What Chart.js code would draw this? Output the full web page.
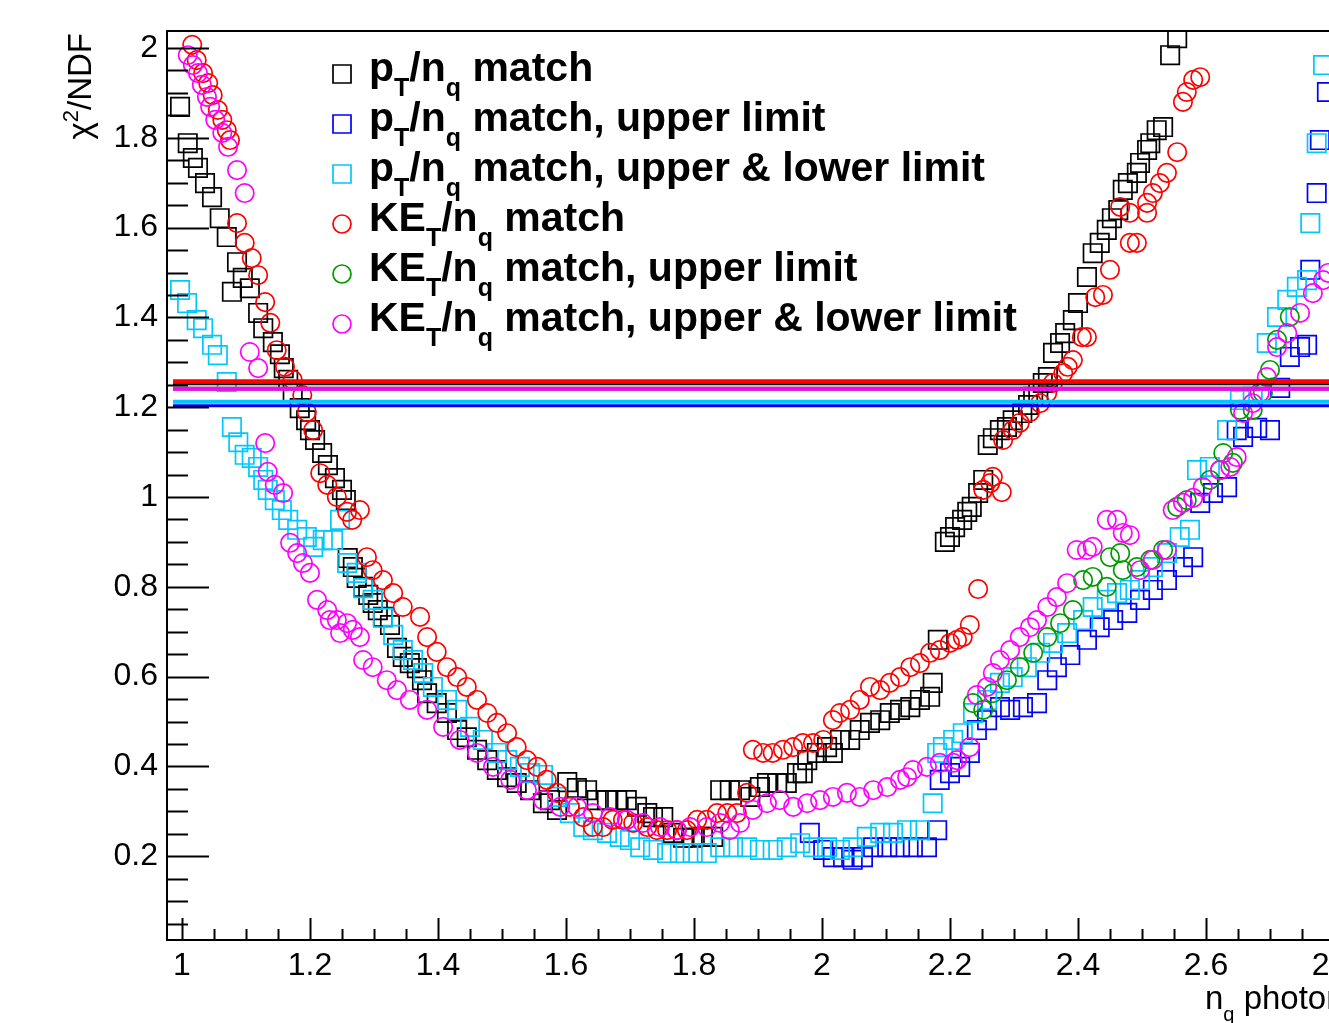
<!DOCTYPE html>
<html>
<head>
<meta charset="utf-8">
<script src="https://cdn.jsdelivr.net/npm/chart.js@4.4.1/dist/chart.umd.min.js"></script>
<style>
  html, body { margin: 0; padding: 0; background: #fff; overflow: hidden; }
  #wrap { width: 1480px; height: 1023px; }
</style>
</head>
<body>
<div id="wrap"><canvas id="chart" width="1480" height="1023"></canvas></div>
<script>
// chi2/NDF vs n_q — scatter of six match variants plus limit lines

// [n_q, chi2/NDF]
const ptMatch = [
  [0.997,1.869],[1.009,1.788],[1.017,1.755],[1.025,1.733],[1.036,1.699],[1.047,1.668],[1.059,1.621],
  [1.070,1.579],[1.078,1.457],[1.086,1.523],[1.095,1.488],[1.106,1.465],[1.119,1.410],[1.127,1.376],
  [1.142,1.345],[1.153,1.318],[1.159,1.287],[1.166,1.261],[1.173,1.234],[1.184,1.198],[1.194,1.171],
  [1.200,1.149],[1.208,1.127],[1.219,1.098],[1.228,1.071],[1.239,1.042],[1.250,1.016],[1.256,0.993],
  [1.259,0.864],[1.267,0.844],[1.273,0.820],[1.283,0.800],[1.291,0.782],[1.298,0.764],[1.306,0.748],
  [1.314,0.733],[1.325,0.715],[1.336,0.664],[1.345,0.644],[1.356,0.630],[1.367,0.619],[1.375,0.592],
  [1.383,0.563],[1.398,0.541],[1.414,0.519],[1.430,0.481],[1.445,0.465],[1.461,0.437],[1.477,0.414],
  [1.492,0.392],[1.508,0.376],[1.523,0.363],[1.544,0.347],[1.564,0.318],[1.575,0.325],[1.586,0.303],
  [1.602,0.365],[1.617,0.352],[1.633,0.347],[1.648,0.325],[1.664,0.325],[1.680,0.325],[1.695,0.325],
  [1.711,0.310],[1.727,0.296],[1.736,0.287],[1.752,0.287],[1.767,0.252],[1.783,0.241],[1.798,0.241],
  [1.814,0.243],[1.830,0.243],[1.841,0.347],[1.856,0.347],[1.872,0.347],[1.888,0.332],[1.903,0.354],
  [1.914,0.363],[1.930,0.363],[1.945,0.363],[1.961,0.385],[1.970,0.385],[1.977,0.414],[1.992,0.430],
  [2.008,0.443],[2.017,0.430],[2.028,0.459],[2.044,0.459],[2.059,0.481],[2.075,0.497],[2.091,0.503],
  [2.106,0.519],[2.122,0.526],[2.138,0.532],[2.153,0.548],[2.169,0.555],[2.173,0.586],[2.181,0.682],
  [2.192,0.900],[2.200,0.911],[2.208,0.933],[2.219,0.949],[2.227,0.967],[2.234,0.978],[2.244,1.009],
  [2.252,1.038],[2.259,1.116],[2.267,1.131],[2.278,1.149],[2.289,1.156],[2.298,1.171],[2.313,1.187],
  [2.322,1.205],[2.330,1.223],[2.338,1.234],[2.345,1.254],[2.353,1.267],[2.361,1.321],[2.372,1.343],
  [2.380,1.365],[2.392,1.394],[2.400,1.432],[2.414,1.490],[2.423,1.543],[2.434,1.566],[2.445,1.595],
  [2.453,1.621],[2.463,1.639],[2.470,1.684],[2.478,1.699],[2.492,1.722],[2.497,1.744],[2.508,1.773],
  [2.513,1.788],[2.523,1.817],[2.533,1.824],[2.544,1.984],[2.555,2.022]
];

const ptUpper = [
  [1.981,0.252],[2.002,0.214],[2.017,0.198],[2.033,0.198],[2.048,0.192],[2.064,0.198],[2.080,0.220],
  [2.102,0.220],[2.122,0.220],[2.142,0.220],[2.164,0.220],[2.180,0.258],[2.184,0.370],[2.200,0.385],
  [2.216,0.399],[2.231,0.430],[2.242,0.481],[2.258,0.503],[2.278,0.532],[2.294,0.526],[2.314,0.532],
  [2.336,0.541],[2.352,0.592],[2.367,0.621],[2.388,0.648],[2.414,0.682],[2.434,0.710],[2.455,0.726],
  [2.477,0.742],[2.497,0.771],[2.517,0.793],[2.539,0.815],[2.564,0.844],[2.580,0.866],[2.591,0.987],
  [2.611,1.009],[2.633,1.022],[2.648,1.149],[2.658,1.134],[2.680,1.154],[2.700,1.149],[2.716,1.243],
  [2.731,1.312],[2.747,1.334],[2.758,1.339],[2.763,1.506],[2.773,1.677],[2.778,1.795],[2.789,1.902]
];

const ptUpperLower = [
  [0.997,1.461],[1.008,1.432],[1.023,1.394],[1.033,1.376],[1.047,1.339],[1.056,1.316],[1.070,1.256],
  [1.078,1.156],[1.088,1.122],[1.098,1.094],[1.109,1.087],[1.119,1.067],[1.127,1.038],[1.134,1.016],
  [1.145,0.993],[1.156,0.971],[1.166,0.949],[1.180,0.927],[1.195,0.911],[1.205,0.889],[1.220,0.904],
  [1.236,0.904],[1.247,0.949],[1.258,0.853],[1.273,0.831],[1.283,0.797],[1.298,0.771],[1.314,0.731],
  [1.330,0.693],[1.345,0.659],[1.361,0.637],[1.377,0.608],[1.392,0.577],[1.414,0.548],[1.430,0.526],
  [1.450,0.488],[1.470,0.459],[1.492,0.430],[1.508,0.414],[1.528,0.399],[1.544,0.385],[1.564,0.381],
  [1.586,0.332],[1.606,0.296],[1.627,0.265],[1.642,0.258],[1.664,0.252],[1.684,0.243],[1.700,0.236],
  [1.716,0.220],[1.736,0.214],[1.758,0.207],[1.778,0.207],[1.798,0.207],[1.820,0.207],[1.841,0.220],
  [1.861,0.220],[1.883,0.220],[1.903,0.214],[1.923,0.214],[1.945,0.220],[1.966,0.229],[1.986,0.220],
  [2.008,0.220],[2.028,0.214],[2.048,0.220],[2.070,0.243],[2.091,0.252],[2.111,0.252],[2.133,0.258],
  [2.153,0.258],[2.173,0.318],[2.180,0.430],[2.189,0.443],[2.205,0.459],[2.220,0.474],[2.236,0.519],
  [2.258,0.548],[2.278,0.586],[2.298,0.599],[2.320,0.621],[2.341,0.653],[2.361,0.675],[2.383,0.697],
  [2.408,0.726],[2.423,0.755],[2.445,0.771],[2.461,0.786],[2.481,0.793],[2.497,0.815],[2.517,0.844],
  [2.539,0.875],[2.559,0.911],[2.575,0.927],[2.586,1.060],[2.606,1.067],[2.633,1.149],[2.653,1.216],
  [2.673,1.223],[2.695,1.343],[2.711,1.401],[2.727,1.439],[2.742,1.468],[2.758,1.483],[2.763,1.610],
  [2.773,1.788],[2.783,1.962]
];

const ketMatch = [
  [1.016,2.007],[1.023,1.973],[1.033,1.944],[1.041,1.922],[1.048,1.895],[1.056,1.862],[1.063,1.840],
  [1.070,1.817],[1.075,1.795],[1.086,1.610],[1.098,1.566],[1.109,1.532],[1.119,1.494],[1.130,1.434],
  [1.138,1.388],[1.148,1.327],[1.161,1.290],[1.173,1.261],[1.188,1.227],[1.195,1.189],[1.205,1.149],
  [1.216,1.053],[1.227,1.027],[1.242,1.000],[1.258,0.967],[1.266,0.949],[1.278,0.971],[1.289,0.866],
  [1.298,0.837],[1.314,0.815],[1.330,0.786],[1.345,0.755],[1.372,0.733],[1.383,0.688],[1.398,0.655],
  [1.414,0.621],[1.430,0.599],[1.445,0.577],[1.461,0.548],[1.477,0.519],[1.492,0.497],[1.508,0.474],
  [1.523,0.443],[1.539,0.414],[1.555,0.399],[1.570,0.370],[1.586,0.341],[1.606,0.310],[1.627,0.287],
  [1.642,0.265],[1.658,0.265],[1.673,0.281],[1.689,0.281],[1.705,0.274],[1.727,0.265],[1.742,0.258],
  [1.758,0.258],[1.773,0.258],[1.789,0.258],[1.805,0.281],[1.820,0.281],[1.836,0.296],[1.852,0.296],
  [1.867,0.296],[1.883,0.341],[1.892,0.437],[1.908,0.430],[1.923,0.430],[1.939,0.437],[1.955,0.443],
  [1.970,0.452],[1.986,0.452],[2.002,0.459],[2.017,0.503],[2.028,0.519],[2.044,0.526],[2.059,0.548],
  [2.075,0.577],[2.091,0.570],[2.106,0.586],[2.122,0.599],[2.138,0.621],[2.153,0.630],[2.169,0.653],
  [2.184,0.659],[2.200,0.675],[2.211,0.682],[2.220,0.688],[2.231,0.715],[2.244,0.795],[2.252,1.016],
  [2.263,1.031],[2.267,1.045],[2.281,1.011],[2.283,1.127],[2.298,1.149],[2.309,1.165],[2.325,1.189],
  [2.341,1.209],[2.352,1.232],[2.361,1.254],[2.377,1.276],[2.384,1.290],[2.392,1.305],[2.406,1.356],
  [2.414,1.356],[2.427,1.445],[2.439,1.450],[2.450,1.506],[2.466,1.646],[2.481,1.566],[2.481,1.633],
  [2.492,1.566],[2.508,1.633],[2.508,1.655],[2.517,1.677],[2.528,1.699],[2.539,1.722],[2.555,1.768],
  [2.564,1.880],[2.570,1.902],[2.580,1.929],[2.591,1.935]
];

const ketUpper = [
  [2.236,0.541],[2.252,0.526],[2.267,0.563],[2.289,0.592],[2.309,0.621],[2.330,0.653],[2.352,0.688],
  [2.372,0.719],[2.392,0.748],[2.408,0.815],[2.423,0.822],[2.445,0.800],[2.450,0.866],[2.466,0.875],
  [2.470,0.837],[2.492,0.844],[2.513,0.860],[2.533,0.882],[2.555,0.978],[2.570,0.993],[2.606,1.038],
  [2.622,1.060],[2.627,1.098],[2.642,1.076],[2.653,1.194],[2.673,1.194],[2.689,1.232],[2.700,1.283],
  [2.711,1.350],[2.731,1.401]
];

const ketUpperLower = [
  [1.009,1.984],[1.017,1.962],[1.025,1.944],[1.031,1.918],[1.039,1.891],[1.044,1.869],[1.052,1.840],
  [1.063,1.811],[1.072,1.780],[1.086,1.728],[1.098,1.677],[1.106,1.323],[1.119,1.287],[1.130,1.120],
  [1.134,1.056],[1.145,1.027],[1.158,1.009],[1.169,0.898],[1.180,0.875],[1.189,0.853],[1.200,0.831],
  [1.211,0.771],[1.227,0.748],[1.231,0.726],[1.242,0.726],[1.247,0.697],[1.258,0.719],[1.267,0.704],
  [1.278,0.688],[1.283,0.637],[1.298,0.621],[1.320,0.592],[1.336,0.570],[1.356,0.548],[1.383,0.526],
  [1.408,0.488],[1.434,0.459],[1.461,0.430],[1.486,0.399],[1.513,0.370],[1.539,0.347],[1.564,0.325],
  [1.591,0.310],[1.617,0.310],[1.642,0.296],[1.669,0.287],[1.695,0.281],[1.720,0.274],[1.747,0.265],
  [1.773,0.258],[1.794,0.265],[1.820,0.265],[1.841,0.274],[1.856,0.258],[1.872,0.274],[1.892,0.303],
  [1.914,0.318],[1.934,0.325],[1.955,0.310],[1.977,0.318],[1.997,0.325],[2.017,0.332],[2.039,0.341],
  [2.059,0.332],[2.080,0.347],[2.102,0.354],[2.122,0.370],[2.133,0.376],[2.142,0.392],[2.164,0.399],
  [2.184,0.408],[2.205,0.408],[2.211,0.414],[2.231,0.443],[2.242,0.559],[2.258,0.577],[2.267,0.608],
  [2.278,0.637],[2.294,0.659],[2.309,0.688],[2.325,0.710],[2.336,0.726],[2.352,0.755],[2.367,0.777],
  [2.383,0.808],[2.398,0.882],[2.414,0.882],[2.423,0.889],[2.445,0.949],[2.461,0.949],[2.470,0.920],
  [2.481,0.915],[2.497,0.837],[2.517,0.860],[2.539,0.882],[2.548,0.971],[2.564,0.987],[2.580,0.998],
  [2.595,1.022],[2.622,1.060],[2.638,1.067],[2.648,1.089],[2.658,1.187],[2.673,1.209],[2.684,1.232],
  [2.695,1.267],[2.711,1.334],[2.727,1.365],[2.747,1.410],[2.767,1.454],[2.783,1.483],[2.791,1.499]
];

// horizontal chi2/NDF limit lines (red, black, green, magenta, cyan, blue)
const LIMIT_VALUES = [1.258, 1.251, 1.241, 1.241, 1.212, 1.203];
const LIMIT_SPAN = [0.986, 2.95];

const X_TICKS = [1, 1.2, 1.4, 1.6, 1.8, 2, 2.2, 2.4, 2.6, 2.8];
const Y_TICKS = [0.2, 0.4, 0.6, 0.8, 1, 1.2, 1.4, 1.6, 1.8, 2];

const X_MIN = 0.9766, X_MAX = 2.9766;
const Y_MIN = 0.0134, Y_MAX = 2.0379;

const FONT = "'Liberation Sans', Arial, Helvetica, sans-serif";

const SERIES = [
  { data: ptMatch,       color: '#000000', style: 'rect'   },
  { data: ptUpper,       color: '#0000ff', style: 'rect'   },
  { data: ptUpperLower,  color: '#00c8ff', style: 'rect'   },
  { data: ketMatch,      color: '#ff0000', style: 'circle' },
  { data: ketUpper,      color: '#009a00', style: 'circle' },
  { data: ketUpperLower, color: '#ff00ff', style: 'circle' },
];

// legend text pieces: [text, isSubscript]
const LEGEND_LABELS = [
  [['p', 0], ['T', 1], ['/n', 0], ['q', 1], [' match', 0]],
  [['p', 0], ['T', 1], ['/n', 0], ['q', 1], [' match, upper limit', 0]],
  [['p', 0], ['T', 1], ['/n', 0], ['q', 1], [' match, upper & lower limit', 0]],
  [['KE', 0], ['T', 1], ['/n', 0], ['q', 1], [' match', 0]],
  [['KE', 0], ['T', 1], ['/n', 0], ['q', 1], [' match, upper limit', 0]],
  [['KE', 0], ['T', 1], ['/n', 0], ['q', 1], [' match, upper & lower limit', 0]],
];

const LINE_STYLES = [
  { color: '#ff0000', width: 4 },
  { color: '#000000', width: 2 },
  { color: '#009a00', width: 4 },
  { color: '#ff00ff', width: 4 },
  { color: '#00c8ff', width: 4 },
  { color: '#0000ff', width: 3 },
];

function toPoints(arr) {
  return arr.map(([x, y]) => ({ x, y }));
}

function drawRich(ctx, parts, x, y, size, bold, subScale) {
  const w = bold ? 'bold ' : '';
  let cx = x;
  for (const [text, sub] of parts) {
    const fs = sub ? Math.round(size * (subScale || 0.6)) : size;
    ctx.font = `${w}${fs}px ${FONT}`;
    ctx.fillText(text, cx, sub ? y + size * 0.36 : y);
    cx += ctx.measureText(text).width;
  }
}

// okvir, ticki in oznake kot v ROOT
const rootFramePlugin = {
  id: 'rootFrame',
  afterDatasetsDraw(chart) {
    const { ctx, chartArea, scales } = chart;
    const { left, right, top, bottom } = chartArea;
    ctx.save();
    ctx.strokeStyle = '#000';
    ctx.lineWidth = 2;
    ctx.beginPath();
    ctx.moveTo(left, top);
    ctx.lineTo(right, top);
    ctx.lineTo(right, bottom);
    ctx.lineTo(left, bottom);
    ctx.closePath();
    ctx.stroke();

    // y ticks: major 0.2, minor 0.05
    ctx.beginPath();
    for (let i = 1; i * 0.05 < Y_MAX; i++) {
      const py = Math.round(scales.y.getPixelForValue(i * 0.05)) + 0.5;
      const len = i % 4 === 0 ? 42 : 21;
      ctx.moveTo(left, py);
      ctx.lineTo(left + len, py);
    }
    // x ticks
    for (let i = 20; i * 0.05 < X_MAX; i++) {
      const px = Math.round(scales.x.getPixelForValue(i * 0.05)) + 0.5;
      const len = i % 4 === 0 ? 22 : 11;
      ctx.moveTo(px, bottom);
      ctx.lineTo(px, bottom - len);
    }
    ctx.stroke();
    ctx.restore();
  },
  afterDraw(chart) {
    const { ctx } = chart;
    ctx.save();
    ctx.fillStyle = '#000';
    ctx.textBaseline = 'alphabetic';

    // legend
    LEGEND_LABELS.forEach((parts, i) => {
      const s = SERIES[i];
      const my = 74 + 50 * i;
      ctx.strokeStyle = s.color;
      ctx.lineWidth = 1.7;
      ctx.beginPath();
      if (s.style === 'rect') ctx.rect(333, my - 9, 18, 18);
      else ctx.arc(342, my, 9, 0, Math.PI * 2);
      ctx.stroke();
      ctx.fillStyle = '#000';
      drawRich(ctx, parts, 369, my + 7, 41, true, 0.6);
    });

    // y title
    ctx.save();
    ctx.translate(91, 33);
    ctx.rotate(-Math.PI / 2);
    ctx.textAlign = 'left';
    ctx.font = `33px ${FONT}`;
    const t1 = 'χ', t2 = '2', t3 = '/NDF';
    const w1 = ctx.measureText(t1).width;
    const w3 = ctx.measureText(t3).width;
    ctx.font = `22px ${FONT}`;
    const w2 = ctx.measureText(t2).width;
    const x0 = -(w1 + w2 + w3);
    ctx.font = `33px ${FONT}`;
    ctx.fillText(t1, x0, 0);
    ctx.font = `22px ${FONT}`;
    ctx.fillText(t2, x0 + w1, -13);
    ctx.font = `33px ${FONT}`;
    ctx.fillText(t3, x0 + w1 + w2, 0);
    ctx.restore();

    // x title
    drawRich(ctx, [['n', 0], ['q', 1], [' photon', 0]], 1205, 1009, 33, false, 0.6);
    ctx.restore();
  },
};

const datasets = [];
LIMIT_VALUES.forEach((v, i) => {
  datasets.push({
    data: LIMIT_SPAN.map((x) => ({ x, y: v })),
    showLine: true,
    borderColor: LINE_STYLES[i].color,
    borderWidth: LINE_STYLES[i].width,
    pointRadius: 0,
    order: i === 2 ? 1 : 0,
  });
});
SERIES.forEach((s, i) => {
  datasets.push({
    data: toPoints(s.data),
    pointStyle: s.style,
    pointRadius: s.style === 'rect' ? 13 : 9.2,
    pointBorderWidth: 1.7,
    pointBorderColor: s.color,
    pointBackgroundColor: 'rgba(0,0,0,0)',
    showLine: false,
    order: 10 - i,
  });
});

new Chart(document.getElementById('chart').getContext('2d'), {
  type: 'scatter',
  data: { datasets },
  plugins: [rootFramePlugin],
  options: {
    responsive: false,
    animation: false,
    events: [],
    layout: { padding: { left: 0, top: 31, right: 33, bottom: 0 } },
    plugins: { legend: { display: false }, tooltip: { enabled: false } },
    scales: {
      x: {
        type: 'linear',
        min: X_MIN,
        max: X_MAX,
        grid: { display: false, drawTicks: false },
        border: { display: false },
        afterBuildTicks: (axis) => { axis.ticks = X_TICKS.map((value) => ({ value })); },
        afterFit: (axis) => { axis.height = 83; },
        ticks: {
          color: '#000',
          padding: 7,
          maxRotation: 0,
          autoSkip: false,
          font: { family: FONT, size: 32 },
          callback: (v) => String(+v.toFixed(1)),
        },
      },
      y: {
        type: 'linear',
        min: Y_MIN,
        max: Y_MAX,
        grid: { display: false, drawTicks: false },
        border: { display: false },
        afterBuildTicks: (axis) => { axis.ticks = Y_TICKS.map((value) => ({ value })); },
        afterFit: (axis) => { axis.width = 167; },
        ticks: {
          color: '#000',
          padding: 9,
          autoSkip: false,
          font: { family: FONT, size: 32 },
          callback: (v) => String(+v.toFixed(1)),
        },
      },
    },
  },
});
</script>
</body>
</html>
